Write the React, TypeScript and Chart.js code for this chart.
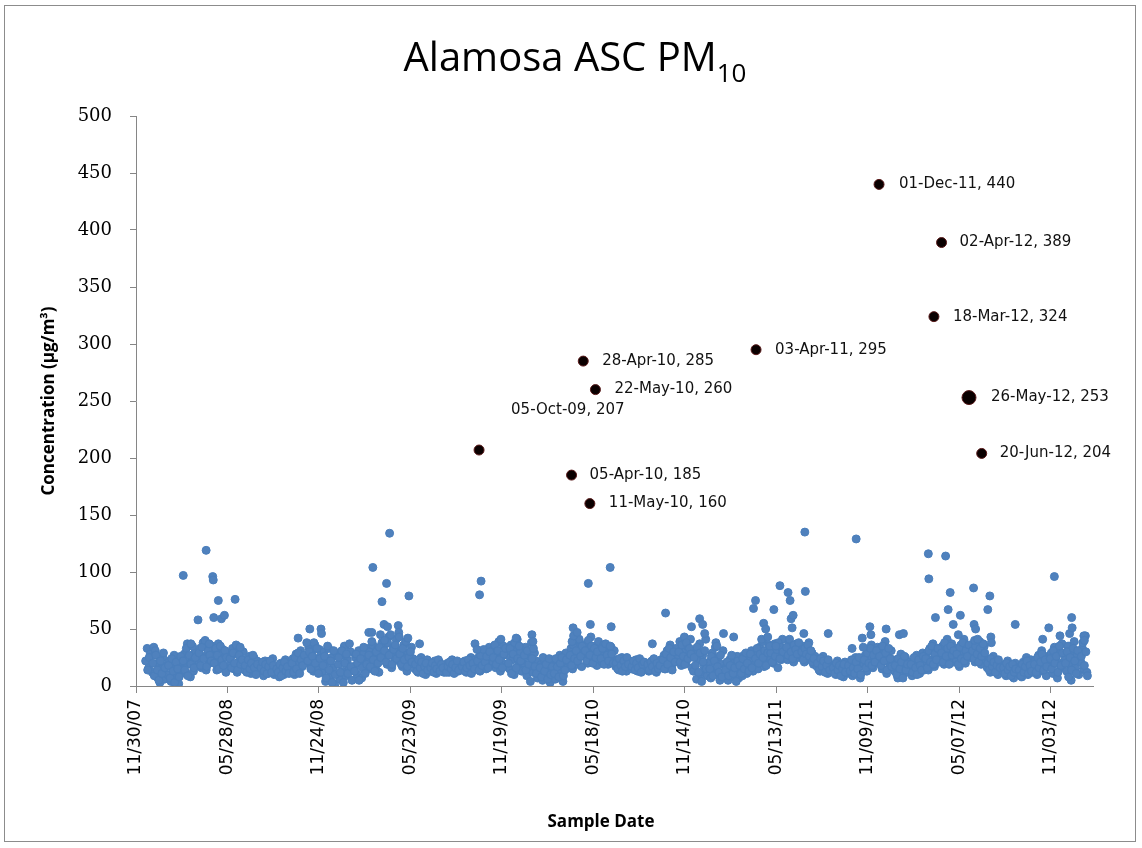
import React, { useEffect, useRef } from "react";
import { Chart, registerables } from "chart.js";

Chart.register(...registerables);

// ---------- data ----------
const sampleMonths = [
  "2007-12",
  "2008-01", "2008-02", "2008-03", "2008-04", "2008-05", "2008-06", "2008-07", "2008-08", "2008-09", "2008-10", "2008-11", "2008-12",
  "2009-01", "2009-02", "2009-03", "2009-04", "2009-05", "2009-06", "2009-07", "2009-08", "2009-09", "2009-10", "2009-11", "2009-12",
  "2010-01", "2010-02", "2010-03", "2010-04", "2010-05", "2010-06", "2010-07", "2010-08", "2010-09", "2010-10", "2010-11", "2010-12",
  "2011-01", "2011-02", "2011-03", "2011-04", "2011-05", "2011-06", "2011-07", "2011-08", "2011-09", "2011-10", "2011-11", "2011-12",
  "2012-01", "2012-02", "2012-03", "2012-04", "2012-05", "2012-06", "2012-07", "2012-08", "2012-09", "2012-10", "2012-11", "2012-12",
  "2013-01",
];
const sampleDaysA = [1, 4, 7, 10, 13, 16, 19, 22, 25, 28];
const monthlyPM10A: (number | null)[][] = [
  [null, null, null, null, null, null, 22, 33, 16, 28],
  [12, 34, 31, 8, 20, 3, 15, 25, 6, 18],
  [10, 22, 4, 16, 27, 9, 14, 2, 19, 12],
  [15, 28, 11, 37, 20, 8, 24, 13, 30, 18],
  [22, 33, 16, 38, 26, 14, 36, 20, 29, 35],
  [24, 30, 14, 37, 21, 17, 32, 26, 12, 28],
  [18, 26, 33, 15, 28, 12, 34, 22, 17, 30],
  [14, 21, 17, 26, 11, 19, 25, 13, 22, 16],
  [12, 18, 9, 22, 15, 11, 20, 14, 24, 10],
  [11, 17, 8, 20, 14, 10, 23, 12, 18, 15],
  [16, 24, 10, 28, 19, 13, 31, 17, 26, 22],
  [27, 34, 19, 30, 13, 36, 24, 16, 32, 28],
  [12, 30, 4, 21, 33, 8, 25, 16, 1, 29],
  [19, 6, 27, 13, 35, 9, 23, 15, 30, 5],
  [17, 25, 10, 31, 20, 7, 28, 14, 22, 33],
  [21, 30, 15, 36, 25, 18, 32, 12, 27, 38],
  [25, 37, 19, 43, 29, 16, 34, 23, 41, 27],
  [22, 31, 17, 36, 26, 13, 29, 20, 34, 24],
  [15, 21, 12, 19, 25, 14, 18, 10, 23, 16],
  [13, 19, 16, 22, 11, 17, 21, 14, 18, 12],
  [15, 20, 12, 18, 23, 14, 17, 21, 13, 19],
  [14, 18, 22, 12, 20, 16, 25, 13, 19, 23],
  [17, 25, 13, 29, 20, 31, 15, 23, 34, 19],
  [21, 33, 16, 28, 39, 13, 26, 35, 19, 30],
  [27, 15, 36, 23, 10, 32, 41, 18, 29, 13],
  [20, 34, 9, 26, 16, 38, 12, 29, 22, 7],
  [11, 19, 5, 23, 14, 8, 17, 3, 21, 12],
  [15, 6, 22, 10, 27, 13, 4, 19, 29, 16],
  [21, 33, 15, 28, 39, 19, 25, 36, 17, 30],
  [26, 37, 20, 32, 43, 23, 29, 35, 18, 39],
  [29, 21, 36, 25, 32, 19, 27, 34, 23, 31],
  [17, 23, 14, 20, 25, 16, 21, 13, 19, 22],
  [15, 20, 18, 23, 13, 19, 16, 21, 14, 18],
  [16, 13, 19, 22, 15, 18, 12, 20, 17, 23],
  [19, 27, 15, 31, 22, 36, 17, 29, 24, 33],
  [25, 39, 18, 31, 43, 21, 35, 27, 41, 16],
  [13, 31, 6, 23, 37, 10, 27, 17, 41, 9],
  [21, 7, 29, 15, 34, 11, 25, 5, 19, 31],
  [10, 17, 5, 23, 13, 8, 20, 15, 26, 7],
  [14, 22, 9, 27, 17, 11, 25, 19, 31, 13],
  [19, 29, 15, 34, 23, 39, 17, 27, 21, 36],
  [25, 33, 20, 37, 29, 16, 31, 23, 41, 27],
  [31, 23, 39, 27, 35, 21, 29, 37, 25, 33],
  [27, 35, 21, 31, 25, 38, 23, 29, 19, 26],
  [17, 23, 13, 20, 26, 15, 21, 11, 19, 16],
  [13, 19, 10, 22, 16, 12, 18, 8, 21, 14],
  [15, 11, 21, 9, 18, 25, 13, 20, 7, 23],
  [19, 27, 13, 31, 22, 36, 16, 29, 25, 34],
  [21, 33, 15, 28, 39, 11, 26, 19, 31, 23],
  [13, 23, 7, 19, 28, 10, 16, 25, 12, 21],
  [15, 9, 22, 13, 27, 17, 11, 20, 29, 14],
  [19, 29, 14, 33, 23, 37, 17, 26, 31, 21],
  [25, 35, 19, 31, 41, 23, 29, 37, 21, 33],
  [23, 31, 17, 36, 27, 41, 20, 29, 34, 25],
  [27, 37, 21, 32, 25, 39, 19, 30, 35, 23],
  [16, 23, 12, 19, 26, 14, 21, 10, 18, 15],
  [13, 19, 9, 22, 15, 11, 18, 7, 20, 14],
  [11, 17, 8, 21, 14, 25, 10, 16, 23, 12],
  [15, 23, 10, 27, 18, 31, 13, 21, 9, 26],
  [19, 29, 11, 34, 23, 7, 31, 16, 37, 21],
  [25, 13, 35, 19, 5, 29, 39, 16, 27, 10],
  [21, 33, 15, 44, 12, null, null, null, null, null],
];

const sampleDaysB = [2, 5, 8, 11, 14, 17, 20, 23, 26];
const monthlyPM10B: (number | null)[][] = [
  [null, null, null, null, null, null, null, 14, 25],
  [20, 9, 27, 14, 5, 22, 11, 29, 16],
  [18, 7, 24, 13, 3, 21, 15, 8, 26],
  [22, 14, 33, 9, 27, 19, 35, 16, 25],
  [29, 18, 34, 24, 40, 17, 31, 27, 22],
  [20, 33, 27, 15, 35, 23, 18, 31, 25],
  [24, 16, 29, 20, 36, 14, 27, 19, 23],
  [18, 12, 23, 15, 20, 27, 16, 10, 19],
  [16, 21, 13, 19, 11, 17, 22, 12, 18],
  [15, 12, 19, 9, 16, 21, 13, 17, 11],
  [20, 12, 25, 15, 29, 11, 23, 18, 27],
  [22, 30, 15, 26, 38, 20, 33, 11, 24],
  [18, 26, 7, 35, 14, 22, 3, 31, 10],
  [25, 12, 31, 3, 20, 28, 11, 37, 17],
  [13, 28, 20, 5, 24, 16, 34, 11, 19],
  [27, 17, 39, 23, 13, 30, 20, 34, 25],
  [31, 21, 38, 27, 45, 19, 32, 36, 24],
  [28, 19, 33, 23, 39, 17, 25, 30, 21],
  [19, 13, 23, 16, 21, 11, 17, 20, 14],
  [16, 20, 12, 18, 15, 23, 13, 19, 16],
  [12, 17, 21, 15, 19, 11, 16, 22, 14],
  [17, 21, 13, 16, 23, 18, 11, 20, 15],
  [22, 14, 27, 18, 32, 21, 26, 16, 30],
  [25, 36, 19, 31, 23, 41, 16, 28, 33],
  [20, 33, 11, 28, 38, 16, 24, 35, 22],
  [27, 14, 31, 19, 4, 24, 33, 17, 11],
  [16, 8, 25, 13, 19, 6, 24, 10, 17],
  [11, 24, 17, 8, 20, 25, 9, 14, 23],
  [27, 18, 36, 24, 31, 22, 41, 26, 35],
  [31, 22, 40, 27, 35, 20, 33, 25, 30],
  [24, 33, 19, 37, 27, 22, 35, 28, 20],
  [20, 15, 24, 18, 13, 22, 17, 25, 19],
  [17, 22, 14, 20, 16, 24, 12, 19, 21],
  [19, 14, 21, 17, 24, 13, 20, 15, 18],
  [23, 15, 28, 19, 33, 25, 14, 30, 21],
  [30, 21, 36, 26, 19, 38, 24, 33, 28],
  [25, 18, 34, 12, 29, 4, 21, 31, 15],
  [15, 26, 9, 22, 38, 17, 12, 27, 8],
  [14, 21, 9, 18, 27, 11, 16, 4, 22],
  [18, 11, 24, 15, 29, 20, 13, 28, 16],
  [24, 33, 20, 28, 41, 25, 31, 18, 29],
  [29, 21, 35, 26, 32, 38, 24, 34, 30],
  [34, 27, 41, 30, 24, 36, 32, 28, 38],
  [30, 23, 33, 28, 36, 26, 31, 21, 24],
  [20, 14, 24, 17, 22, 12, 18, 23, 14],
  [16, 11, 20, 14, 18, 9, 15, 19, 12],
  [18, 13, 23, 16, 11, 21, 15, 25, 10],
  [23, 16, 29, 20, 33, 18, 27, 21, 31],
  [26, 18, 35, 22, 29, 14, 33, 24, 17],
  [18, 10, 24, 15, 21, 7, 26, 14, 19],
  [19, 12, 25, 16, 10, 23, 18, 14, 26],
  [24, 16, 31, 21, 35, 19, 28, 23, 33],
  [29, 21, 38, 26, 33, 19, 35, 27, 31],
  [28, 19, 34, 24, 38, 22, 31, 26, 36],
  [31, 24, 35, 28, 21, 33, 26, 37, 29],
  [20, 14, 24, 17, 21, 12, 18, 23, 16],
  [16, 11, 20, 14, 17, 9, 19, 12, 15],
  [14, 9, 19, 12, 17, 22, 11, 18, 13],
  [19, 12, 25, 16, 21, 28, 14, 23, 17],
  [24, 15, 31, 20, 26, 12, 35, 18, 29],
  [20, 30, 8, 25, 14, 33, 22, 11, 31],
  [26, 38, 18, 30, 9, null, null, null, null],
];

const spikeDates = [
  "2008-03-02", "2008-03-17", "2008-03-31", "2008-04-16", "2008-04-22", "2008-04-29", "2008-04-30", "2008-05-01",
  "2008-05-10", "2008-05-16", "2008-05-22", "2008-06-12", "2008-06-22", "2008-10-14", "2008-10-31", "2008-11-06",
  "2008-11-28", "2008-11-29", "2009-03-02", "2009-03-08", "2009-03-10", "2009-03-25", "2009-03-28", "2009-04-01",
  "2009-04-02", "2009-04-06", "2009-04-08", "2009-04-12", "2009-04-29", "2009-04-30", "2009-05-01", "2009-05-18",
  "2009-05-20", "2009-06-10", "2009-09-27", "2009-10-01", "2009-10-06", "2009-10-09", "2009-12-17", "2010-01-17",
  "2010-01-19", "2010-04-06", "2010-04-08", "2010-04-09", "2010-04-16", "2010-05-08", "2010-05-12", "2010-06-20",
  "2010-06-22", "2010-09-11", "2010-10-07", "2010-11-27", "2010-12-13", "2010-12-19", "2010-12-23", "2011-01-16",
  "2011-01-29", "2011-02-18", "2011-03-29", "2011-04-02", "2011-04-18", "2011-04-22", "2011-04-26", "2011-04-30",
  "2011-05-08", "2011-05-12", "2011-05-20", "2011-06-05", "2011-06-09", "2011-06-11", "2011-06-13", "2011-06-15",
  "2011-07-06", "2011-07-08", "2011-07-09", "2011-08-23", "2011-10-09", "2011-10-17", "2011-10-29", "2011-10-31",
  "2011-11-13", "2011-11-15", "2011-12-15", "2012-01-10", "2012-01-18", "2012-03-07", "2012-03-08", "2012-03-21",
  "2012-04-10", "2012-04-15", "2012-04-19", "2012-04-25", "2012-05-05", "2012-05-09", "2012-06-04", "2012-06-05",
  "2012-06-06", "2012-06-08", "2012-06-12", "2012-07-02", "2012-07-06", "2012-07-08", "2012-07-09", "2012-08-25",
  "2012-10-18", "2012-10-30", "2012-11-10", "2012-11-21", "2012-12-10", "2012-12-14", "2012-12-15", "2013-01-07",
  "2013-01-08",
];
const spikeValues = [
  97, 37, 58, 119, 37, 96, 93, 60,
  75, 59, 62, 76, 34, 42, 38, 50,
  50, 46, 47, 47, 104, 45, 74, 54,
  40, 90, 52, 134, 53, 47, 43, 42,
  79, 37, 37, 32, 80, 92, 42, 45,
  39, 39, 51, 44, 47, 90, 54, 104,
  52, 37, 64, 52, 59, 54, 46, 35,
  46, 43, 68, 75, 55, 50, 43, 35,
  67, 35, 88, 82, 75, 59, 51, 62,
  46, 135, 83, 46, 33, 129, 42, 34,
  52, 45, 50, 45, 46, 116, 94, 60,
  114, 67, 82, 54, 45, 62, 86, 54,
  40, 50, 41, 67, 79, 43, 38, 54,
  41, 51, 96, 44, 46, 60, 51, 44,
  40,
];

const exceedDates = [
  "2009-10-05", "2010-04-05", "2010-04-28", "2010-05-11", "2010-05-22", "2011-04-03",
  "2011-12-01", "2012-03-18", "2012-04-02", "2012-05-26", "2012-06-20",
];
const exceedValues = [207, 185, 285, 160, 260, 295, 440, 324, 389, 253, 204];

const xTickLabels = [
  "11/30/07", "05/28/08", "11/24/08", "05/23/09", "11/19/09", "05/18/10",
  "11/14/10", "05/13/11", "11/09/11", "05/07/12", "11/03/12",
];
const xAxisEnd = "2013-01-25";

// ---------- style ----------
const exceedLabelShift: [number, number][] = [
  [32, -40], [18, 0], [19, 0], [19, 0], [19, 0], [19, 0],
  [20, 0], [19, 0], [18, 0], [22, 0], [18, 0],
];
const exceedRadius = [5, 5, 5, 5, 5, 5, 5, 5, 5, 7, 5];

// ---------- helpers ----------
const DAY_MS = 86400000;
const isoToDay = (iso: string) => {
  const [y, m, d] = iso.split("-").map(Number);
  return Date.UTC(y, m - 1, d) / DAY_MS;
};
const mdyToDay = (s: string) => {
  const [m, d, y] = s.split("/").map(Number);
  return Date.UTC(2000 + y, m - 1, d) / DAY_MS;
};
const MON = ["Jan", "Feb", "Mar", "Apr", "May", "Jun", "Jul", "Aug", "Sep", "Oct", "Nov", "Dec"];
const pad2 = (n: number) => (n < 10 ? "0" + n : "" + n);
const exceedLabel = (i: number) => {
  const dt = new Date(isoToDay(exceedDates[i]) * DAY_MS);
  return `${pad2(dt.getUTCDate())}-${MON[dt.getUTCMonth()]}-${pad2(dt.getUTCFullYear() % 100)}, ${exceedValues[i]}`;
};

const basePoints: { x: number; y: number }[] = [];
const addMonthly = (rows: (number | null)[][], days: number[]) => {
  sampleMonths.forEach((ym, mi) => {
    const [y, m] = ym.split("-").map(Number);
    rows[mi].forEach((v, di) => {
      if (v === null) return;
      basePoints.push({ x: Date.UTC(y, m - 1, days[di]) / DAY_MS, y: v });
    });
  });
};
addMonthly(monthlyPM10A, sampleDaysA);
addMonthly(monthlyPM10B, sampleDaysB);
const spikePoints = spikeDates.map((d, i) => ({ x: isoToDay(d), y: spikeValues[i] }));
const exceedPoints = exceedDates.map((d, i) => ({ x: isoToDay(d), y: exceedValues[i] }));

const AXIS_GREY = "#868686";

const labelPlugin = {
  id: "exceedLabels",
  afterDatasetsDraw(chart: any) {
    const meta = chart.getDatasetMeta(0);
    const ctx = chart.ctx;
    ctx.save();
    ctx.font = '15px "DejaVu Sans"';
    ctx.fillStyle = "#111111";
    ctx.textBaseline = "middle";
    ctx.textAlign = "left";
    meta.data.forEach((el: any, i: number) => {
      const [dx, dy] = exceedLabelShift[i];
      ctx.fillText(exceedLabel(i), el.x + dx, el.y + dy);
    });
    // x-axis title
    ctx.font = 'bold 17px "Open Sans"';
    ctx.fillStyle = "#000000";
    ctx.textAlign = "center";
    ctx.fillText("Sample Date", 601, 822);
    ctx.restore();
  },
};

export default function App() {
  const canvasRef = useRef<HTMLCanvasElement | null>(null);

  useEffect(() => {
    if (!canvasRef.current) return;
    const chart = new Chart(canvasRef.current, {
      type: "scatter",
      data: {
        datasets: [
          {
            label: "Exceedances",
            data: exceedPoints,
            backgroundColor: "#0a0000",
            borderColor: "#5a1a1a",
            borderWidth: 1,
            pointRadius: exceedRadius,
            pointHoverRadius: exceedRadius,
          },
          {
            label: "PM10 spikes",
            data: spikePoints,
            backgroundColor: "#4f81bd",
            borderColor: "#4a7ebb",
            borderWidth: 1,
            pointRadius: 4,
          },
          {
            label: "PM10",
            data: basePoints,
            backgroundColor: "#4f81bd",
            borderColor: "#4a7ebb",
            borderWidth: 1,
            pointRadius: 4,
          },
        ],
      },
      options: {
        responsive: false,
        animation: false,
        events: [],
        layout: { padding: { left: 28, right: 49, top: 116, bottom: 6 } },
        plugins: {
          legend: { display: false },
          tooltip: { enabled: false },
          title: { display: false },
        },
        scales: {
          x: {
            type: "linear",
            min: mdyToDay(xTickLabels[0]),
            max: isoToDay(xAxisEnd),
            afterBuildTicks: (scale: any) => {
              scale.ticks = xTickLabels.map((l) => ({ value: mdyToDay(l) }));
            },
            afterFit: (scale: any) => {
              scale.height = 156;
            },
            grid: {
              display: true,
              drawOnChartArea: false,
              drawTicks: true,
              tickLength: 7,
              color: AXIS_GREY,
            },
            border: { display: true, color: AXIS_GREY, width: 1 },
            ticks: {
              autoSkip: false,
              maxRotation: 90,
              minRotation: 90,
              padding: 6,
              color: "#000000",
              font: { family: "DejaVu Sans", size: 17 },
              callback: (_v: any, i: number) => xTickLabels[i],
            },
            title: { display: false },
          },
          y: {
            min: 0,
            max: 500,
            afterFit: (scale: any) => {
              scale.width = 108;
            },
            grid: {
              display: true,
              drawOnChartArea: false,
              drawTicks: true,
              tickLength: 6,
              color: AXIS_GREY,
            },
            border: { display: true, color: AXIS_GREY, width: 1 },
            ticks: {
              stepSize: 50,
              padding: 18,
              color: "#000000",
              font: { family: "DejaVu Serif", size: 18 },
            },
            title: {
              display: true,
              text: "Concentration (µg/m³)",
              color: "#000000",
              font: { family: "Open Sans", size: 17, weight: "bold" },
              padding: { top: 11, bottom: 0 },
            },
          },
        },
      },
      plugins: [labelPlugin],
    } as any);
    return () => chart.destroy();
  }, []);

  return (
    <div style={{ position: "fixed", left: 0, top: 0, width: 1142, height: 848, background: "#ffffff" }}>
      <div
        style={{
          position: "absolute",
          left: 4,
          top: 5,
          width: 1132,
          height: 837,
          border: "1px solid #8c8c8c",
          boxSizing: "border-box",
        }}
      />
      <canvas ref={canvasRef} width={1142} height={848} style={{ position: "absolute", left: 0, top: 0 }} />
      <div
        style={{
          position: "absolute",
          left: 0,
          top: 36,
          width: 1150,
          textAlign: "center",
          fontFamily: "'Open Sans', sans-serif",
          fontSize: 40,
          lineHeight: "40px",
          color: "#000000",
          whiteSpace: "nowrap",
        }}
      >
        Alamosa ASC PM<span style={{ fontSize: 26, verticalAlign: -11 }}>10</span>
      </div>
    </div>
  );
}
